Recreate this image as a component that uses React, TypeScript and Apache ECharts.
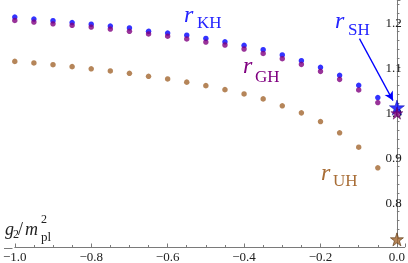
import React, { useEffect, useRef } from "react";
import * as echarts from "echarts";

const xValues = [-1.0, -0.95, -0.9, -0.85, -0.8, -0.75, -0.7, -0.65, -0.6, -0.55, -0.5, -0.45, -0.4, -0.35, -0.3, -0.25, -0.2, -0.15, -0.1, -0.05];
const rKH = [1.212, 1.2076, 1.2038, 1.1998, 1.196, 1.192, 1.1878, 1.1804, 1.1764, 1.1716, 1.1644, 1.157, 1.1489, 1.1393, 1.1276, 1.1149, 1.1, 1.0822, 1.06, 1.0327];
const rGH = [1.2044, 1.2009, 1.1971, 1.1936, 1.1898, 1.1853, 1.1802, 1.1744, 1.1693, 1.1633, 1.1564, 1.1498, 1.1409, 1.1309, 1.1193, 1.1067, 1.0911, 1.0733, 1.0498, 1.0216];
const rUH = [1.1133, 1.1098, 1.106, 1.1016, 1.0967, 1.092, 1.0867, 1.08, 1.0742, 1.0671, 1.0593, 1.0504, 1.0409, 1.0298, 1.0144, 0.9987, 0.9793, 0.9542, 0.9222, 0.8764];
const rSH = 1.0104; // star at g2 = 0
const rGH0 = 0.998;
const rUH0 = 0.717;
const arrowFrom = [-0.098, 1.164];
const arrowTo = [-0.0103, 1.026];

const BLUE = "#0000ff";
const BLUE_T = "#2424ff";
const PURPLE = "#800080";
const BROWN = "#a3672f";
const BROWN_T = "#a86d36";
const FONT = "Liberation Serif";
const STAR = "path://M50,0 L61.8,35.1 L98.9,35.1 L68.8,57.3 L80.3,92.7 L50,71 L19.7,92.7 L31.2,57.3 L1.1,35.1 L38.2,35.1 Z";

function T(text: string, x: number, baseline: number, fs: number, color: string, italic = false) {
  return {
    type: "text",
    x,
    y: baseline - 0.34 * fs,
    silent: true,
    style: {
      text,
      fill: color,
      font: `${italic ? "italic " : ""}${fs}px "${FONT}"`,
      verticalAlign: "middle",
      align: "left",
    },
  };
}

const pairs = (ys: number[]) => xValues.map((x, i) => [x, ys[i]]);

export default function App() {
  const ref = useRef<HTMLDivElement>(null);
  useEffect(() => {
    if (!ref.current) return;
    const chart = echarts.init(ref.current, undefined, { renderer: "svg" });
    chart.setOption({
      animation: false,
      grid: { left: 12.5, right: 0, top: 0, bottom: 14.7, containLabel: false },
      xAxis: {
        type: "value",
        min: -1.0,
        max: 0.0206,
        interval: 0.2,
        splitLine: { show: false },
        axisLine: { lineStyle: { color: "#7a7a7a", width: 1 } },
        axisTick: { inside: true, length: 3.5, lineStyle: { color: "#7a7a7a" } },
        minorTick: { show: true, splitNumber: 4, length: 2, lineStyle: { color: "#7a7a7a" } },
        axisLabel: {
          margin: 3,
          color: "#222",
          fontFamily: FONT,
          fontSize: 13,
          showMaxLabel: false,
          formatter: (v: number) => {
            if (Math.abs(v * 5 - Math.round(v * 5)) > 1e-6) return "";
            const s = Math.abs(v).toFixed(1);
            return v < -1e-9 ? "\u2212" + s : s;
          },
        },
      },
      yAxis: {
        type: "value",
        position: "right",
        min: 0.7,
        max: 1.25,
        interval: 0.1,
        splitLine: { show: false },
        axisLine: { onZero: true, lineStyle: { color: "#7a7a7a", width: 1 } },
        axisTick: { inside: false, length: 3.5, lineStyle: { color: "#7a7a7a" } },
        minorTick: { show: true, splitNumber: 5, length: 2.5, lineStyle: { color: "#7a7a7a" } },
        axisLabel: {
          inside: true,
          margin: 3,
          color: "#222",
          fontFamily: FONT,
          fontSize: 13,
          showMinLabel: false,
          showMaxLabel: false,
          formatter: (v: number) => {
            if (Math.abs(v * 10 - Math.round(v * 10)) > 1e-6) return "";
            if (v < 0.75) return "";
            return v.toFixed(1);
          },
        },
      },
      series: [
        {
          type: "scatter",
          data: pairs(rKH),
          symbolSize: 5.5,
          itemStyle: { color: BLUE },
          silent: true,
        },
        {
          type: "scatter",
          data: pairs(rGH),
          symbolSize: 5.5,
          itemStyle: { color: PURPLE },
          silent: true,
        },
        {
          type: "scatter",
          data: pairs(rUH),
          symbolSize: 5.5,
          itemStyle: { color: BROWN },
          silent: true,
        },
        {
          type: "scatter",
          data: [[0, rSH]],
          symbol: STAR,
          symbolSize: 15,
          itemStyle: { color: BLUE, borderColor: "#0000a0", borderWidth: 0.6 },
          silent: true,
          z: 3,
          markLine: {
            silent: true,
            symbol: ["none", "arrow"],
            symbolSize: [7, 9],
            label: { show: false },
            lineStyle: { color: BLUE, width: 1.3, type: "solid" },
            data: [[{ coord: arrowFrom }, { coord: arrowTo }]],
          },
        },
        {
          type: "scatter",
          data: [[0, rGH0]],
          symbol: STAR,
          symbolSize: 12,
          itemStyle: { color: PURPLE, borderColor: "#500050", borderWidth: 0.6 },
          silent: true,
          z: 4,
        },
        {
          type: "scatter",
          data: [[0, rUH0]],
          symbol: STAR,
          symbolSize: 13,
          itemStyle: { color: BROWN, borderColor: "#5a3510", borderWidth: 0.8 },
          silent: true,
        },
      ],
      graphic: [
        { type: "line", silent: true, shape: { x1: 4, y1: 248.5, x2: 12.5, y2: 248.5 }, style: { stroke: "#7a7a7a", lineWidth: 1 } },
        T("r", 184, 22, 24, BLUE_T, true),
        T("KH", 197, 28, 17, BLUE_T),
        T("r", 243, 73, 24, PURPLE, true),
        T("GH", 255, 82, 17, PURPLE),
        T("r", 335, 28, 24, BLUE_T, true),
        T("SH", 348, 35, 17, BLUE_T),
        T("r", 321, 180, 24, BROWN_T, true),
        T("UH", 333, 186, 17, BROWN_T),
        T("g", 5, 235, 18, "#222", true),
        T("2", 13, 238, 12, "#222"),
        T("/", 18, 235, 18, "#222"),
        T("m", 25, 235, 18, "#222", true),
        T("2", 41, 223.5, 12, "#222"),
        T("pl", 41, 240.5, 13, "#222"),
      ],
    });
    return () => chart.dispose();
  }, []);
  return <div ref={ref} style={{ width: 408, height: 263, position: "fixed", left: 0, top: 0 }} />;
}
